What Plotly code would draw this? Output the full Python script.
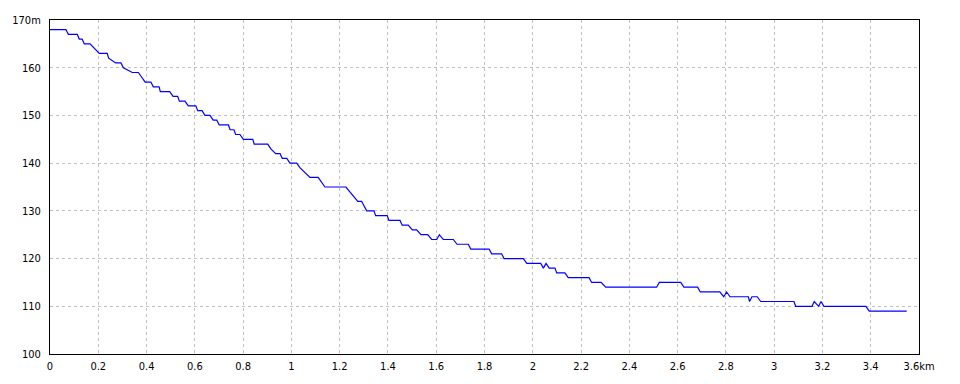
import plotly.graph_objects as go

distance_km = [
    0, 0.066, 0.076, 0.113, 0.121, 0.133, 0.142, 0.166, 0.204, 0.237, 0.243,
    0.272, 0.294, 0.304, 0.341, 0.366, 0.380, 0.394, 0.418, 0.428, 0.452,
    0.457, 0.496, 0.510, 0.529, 0.536, 0.559, 0.573, 0.604, 0.612, 0.630,
    0.642, 0.663, 0.676, 0.691, 0.701, 0.739, 0.746, 0.762, 0.769, 0.787,
    0.801, 0.840, 0.846, 0.902, 0.915, 0.935, 0.953, 0.962, 0.981, 0.994,
    1.022, 1.036, 1.077, 1.111, 1.139, 1.226, 1.275, 1.291, 1.312, 1.342,
    1.349, 1.397, 1.404, 1.450, 1.459, 1.484, 1.501, 1.519, 1.537, 1.565,
    1.581, 1.602, 1.613, 1.629, 1.671, 1.686, 1.733, 1.743, 1.819, 1.830,
    1.871, 1.881, 1.961, 1.975, 2.033, 2.044, 2.055, 2.068, 2.092, 2.099,
    2.133, 2.147, 2.233, 2.244, 2.283, 2.302, 2.513, 2.524, 2.613, 2.626,
    2.683, 2.694, 2.775, 2.791, 2.803, 2.817, 2.893, 2.898, 2.908, 2.930,
    2.944, 3.082, 3.089, 3.157, 3.166, 3.184, 3.194, 3.206, 3.380, 3.394,
    3.549,
]
elevation_m = [
    168, 168, 167, 167, 166, 166, 165, 165, 163, 163, 162,
    161, 161, 160, 159, 159, 158, 157, 157, 156, 156,
    155, 155, 154, 154, 153, 153, 152, 152, 151, 151,
    150, 150, 149, 149, 148, 148, 147, 147, 146, 146,
    145, 145, 144, 144, 143, 142, 142, 141, 141, 140,
    140, 139, 137, 137, 135, 135, 132, 132, 130, 130,
    129, 129, 128, 128, 127, 127, 126, 126, 125, 125,
    124, 124, 125, 124, 124, 123, 123, 122, 122, 121,
    121, 120, 120, 119, 119, 118, 119, 118, 118, 117,
    117, 116, 116, 115, 115, 114, 114, 115, 115, 114,
    114, 113, 113, 112, 113, 112, 112, 111, 112, 112,
    111, 111, 110, 110, 111, 110, 111, 110, 110, 109,
    109,
]

x_tick_vals = [0, 0.2, 0.4, 0.6, 0.8, 1, 1.2, 1.4, 1.6, 1.8, 2, 2.2, 2.4,
               2.6, 2.8, 3, 3.2, 3.4, 3.6]
x_tick_text = ["0", "0.2", "0.4", "0.6", "0.8", "1", "1.2", "1.4", "1.6", "1.8",
               "2", "2.2", "2.4", "2.6", "2.8", "3", "3.2", "3.4", "3.6km"]
y_tick_vals = [100, 110, 120, 130, 140, 150, 160, 170]
y_tick_text = ["100", "110", "120", "130", "140", "150", "160", "170m"]

fig = go.Figure()
fig.add_trace(go.Scatter(
    x=distance_km, y=elevation_m, mode="lines",
    line=dict(color="#0000ff", width=1.2),
    hoverinfo="skip",
))

font = dict(family="DejaVu Sans Condensed, Liberation Sans Narrow, Arial", size=11, color="black")

fig.update_layout(
    width=960, height=384,
    margin=dict(l=50, r=41, t=20, b=30),
    paper_bgcolor="white", plot_bgcolor="white",
    showlegend=False,
    font=font,
)
fig.update_xaxes(
    range=[0, 3.6], tickvals=x_tick_vals, ticktext=x_tick_text,
    showgrid=True, gridcolor="#c0c0c0", griddash="3px,3px", gridwidth=1,
    showline=True, linecolor="black", linewidth=1, mirror=True,
    ticks="", zeroline=False, tickfont=font, ticklabelstandoff=2,
)
fig.update_yaxes(
    range=[100, 170], tickvals=y_tick_vals, ticktext=y_tick_text,
    showgrid=True, gridcolor="#c0c0c0", griddash="3px,3px", gridwidth=1,
    showline=True, linecolor="black", linewidth=1, mirror=True,
    ticks="", zeroline=False, tickfont=font, ticklabelstandoff=6,
)

fig.write_html("out.html")
